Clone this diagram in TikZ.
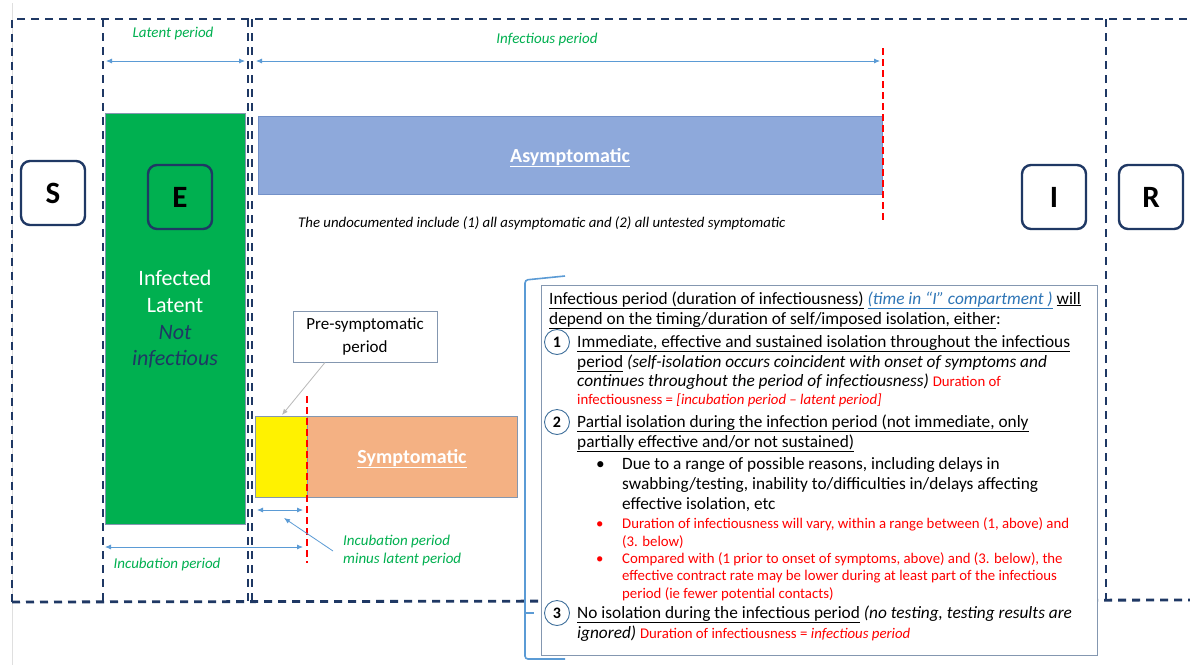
\documentclass[tikz,border=0pt]{standalone}
\usepackage{fontspec}
\setmainfont{Carlito}
\usetikzlibrary{arrows.meta,positioning}

\definecolor{navy}{HTML}{1F3864}
\definecolor{perioddgreen}{HTML}{00B050}
\definecolor{arrblue}{HTML}{5B9BD5}
\definecolor{asymblue}{HTML}{8EA9DB}
\definecolor{asymedge}{HTML}{7391C8}
\definecolor{symorange}{HTML}{F4B183}
\definecolor{boxedge}{HTML}{8497B0}
\definecolor{linkblue}{HTML}{2E75B6}
\definecolor{circblue}{HTML}{41719C}

\newcommand\bodysize{\fontsize{17.3}{20}\selectfont}
\newcommand\notesize{\fontsize{14.8}{17}\selectfont}

\tikzset{
  comp/.style={draw=navy, line width=2.4pt, rounded corners=9pt, minimum width=64pt,
    minimum height=64pt, font=\fontsize{31}{32}\selectfont\bfseries},
  border/.style={navy, line width=2.8pt, dash pattern=on 8pt off 6pt},
  onset/.style={red, line width=1.3pt, dash pattern=on 7pt off 4pt},
  span/.style={{Latex[length=6pt,width=5pt]}-{Latex[length=6pt,width=5pt]}, arrblue, line width=0.8pt},
  period/.style={text=perioddgreen, font=\fontsize{15}{18}\selectfont\itshape, inner sep=0pt, anchor=base},
  line/.style={anchor=base west, inner sep=0pt, font=\bodysize},
  note/.style={anchor=base west, inner sep=0pt, font=\notesize, text=red},
  num/.style={circle, draw=circblue, line width=0.9pt, minimum size=25pt, inner sep=0pt,
    fill=white, font=\bfseries\fontsize{16}{16}\selectfont},
  big/.style={anchor=base, inner sep=0pt, font=\fontsize{22}{26}\selectfont},
}

\begin{document}
\begin{tikzpicture}[x=1pt,y=-1pt]
  \useasboundingbox[fill=white] (0,0) rectangle (1190,665);
  % page edge
  \draw[gray!25, line width=0.6pt] (12,3) -- (12,665);

  % compartment borders
  \draw[border] (12,602) -- (12,19) -- (1190,19);
  \draw[border] (12,602) -- (1190,600);
  \draw[border] (103,19) -- (103,602);
  \draw[border, line width=1.8pt] (248.3,19) -- (248.3,602);
  \draw[border, line width=1.8pt] (252.2,19) -- (252.2,602);
  \draw[border] (1106,19) -- (1106,600);

  % period arrows
  \coordinate (latL) at (106,61);
  \coordinate (latR) at (245,61);
  \coordinate (infL) at (256,61);
  \coordinate (infR) at (880,61);
  \draw[span] (latL) -- (latR);
  \draw[span] (infL) -- (infR);
  \node[period] (latlbl) at (173,37) {Latent period};
  \node[period] (inflbl) at (547,43) {Infectious period};

  % latent block
  \draw[fill=perioddgreen, draw=boxedge, line width=0.5pt] (105,113) rectangle (245,524);
  \node[big, text=white] (inf1) at (175,285) {Infected};
  \node[big, text=white] (inf2) at (175,312) {Latent};
  \node[big, text=navy, font=\fontsize{22}{26}\selectfont\itshape] (inf3) at (175,339) {Not};
  \node[big, text=navy, font=\fontsize{22}{26}\selectfont\itshape] (inf4) at (175,365) {infectious};

  % compartments
  \node[comp] (S) at (53,193) {S};
  \node[comp] (E) at (180,197) {E};
  \node[comp] (I) at (1054,197) {I};
  \node[comp] (R) at (1151,197) {R};

  % asymptomatic
  \draw[fill=asymblue, draw=asymedge, line width=0.8pt] (258,116) rectangle (882,194);
  \node[big, text=white, font=\fontsize{20}{22}\selectfont\bfseries] (asym) at (570,162) {\underline{Asymptomatic}};
  \draw[onset] (883,48) -- (883,220);
  \node[anchor=base west, inner sep=0pt, font=\fontsize{14.8}{17}\selectfont\itshape] (undoc) at (298,227)
    {The undocumented include (1) all asymptomatic and (2) all untested symptomatic};

  % symptomatic
  \draw[fill=yellow, draw=boxedge, line width=0.8pt] (255,416) rectangle (307,497);
  \draw[fill=symorange, draw=boxedge, line width=0.8pt] (307,416) rectangle (517,497);
  \node[big, text=white, font=\fontsize{20}{22}\selectfont\bfseries] (sym) at (412,463) {\underline{Symptomatic}};
  \draw[onset] (307,396) -- (307,563);

  % pre-symptomatic callout
  \node[draw=boxedge, line width=0.9pt, minimum width=144pt, minimum height=51pt, align=center,
    font=\fontsize{17}{23}\selectfont] (pre) at (365,336.5) {Pre-symptomatic\\period};
  \coordinate (preTip) at (282,415);
  \draw[-{Latex[length=6pt,width=5pt]}, gray!55, line width=0.8pt] ([xshift=-40pt]pre.south) -- (preTip);

  % incubation arrows
  \coordinate (mlL) at (257,510);
  \coordinate (mlR) at (303,510);
  \draw[span] (mlL) -- (mlR);
  \coordinate (incL) at (105,547);
  \coordinate (incR) at (303,547);
  \draw[span] (incL) -- (incR);
  \node[period] (inclbl) at (167,568) {Incubation period};
  \node[period, anchor=base west] (ml1) at (343,545) {Incubation period};
  \node[period, anchor=base west] (ml2) at (343,563) {minus latent period};
  \coordinate (mlTip) at (284,518);
  \draw[-{Latex[length=6pt,width=5pt]}, arrblue, line width=0.8pt] (333,551) -- (mlTip);

  % bracket and text box
  \draw[arrblue, line width=1.6pt, rounded corners=3pt] (565,276) -- (525,280) -- (525,659) -- (565,659);
  \draw[arrblue, line width=1.6pt] (524,613) -- (534,613);
  \draw[fill=white, draw=boxedge, line width=0.9pt] (541,285) rectangle (1097,655);

  \node[line] (h1) at (549,304) {\underline{Infectious period (duration of infectiousness)}
    \textcolor{linkblue}{\underline{\itshape(time in “I” compartment )}} \underline{will}};
  \node[line] (h2) at (549,324) {\underline{depend on the timing/duration of self/imposed isolation, either}:};

  \node[num] (n1) at (557,342) {1};
  \node[line] (a1) at (577,347) {\underline{Immediate, effective and sustained isolation throughout the infectious}};
  \node[line] (a2) at (577,367) {\underline{period} \textit{(self-isolation occurs coincident with onset of symptoms and}};
  \node[line] (a3) at (577,386) {\textit{continues throughout the period of infectiousness)} {\notesize\color{red}Duration of}};
  \node[note] (a4) at (577,404) {infectiousness = \textit{[incubation period – latent period]}};

  \node[num] (n2) at (557,422) {2};
  \node[line] (b1) at (577,427) {\underline{Partial isolation during the infection period (not immediate, only}};
  \node[line] (b2) at (577,447) {\underline{partially effective and/or not sustained)}};
  \node[line] (d0) at (596,469) {•};
  \node[line] (d1) at (622,469) {Due to a range of possible reasons, including delays in};
  \node[line] (d2) at (622,489) {swabbing/testing, inability to/difficulties in/delays affecting};
  \node[line] (d3) at (622,509) {effective isolation, etc};
  \node[note] (v0) at (596,528) {•};
  \node[note] (v1) at (622,528) {Duration of infectiousness will vary, within a range between (1, above) and};
  \node[note] (v2) at (622,546) {(3. below)};
  \node[note] (c0) at (596,563) {•};
  \node[note] (c1) at (622,563) {Compared with (1 prior to onset of symptoms, above) and (3. below), the};
  \node[note] (c2) at (622,580) {effective contract rate may be lower during at least part of the infectious};
  \node[note] (c3) at (622,598) {period (ie fewer potential contacts)};

  \node[num] (n3) at (557,613) {3};
  \node[line] (e1) at (577,618) {\underline{No isolation during the infectious period} \textit{(no testing, testing results are}};
  \node[line] (e2) at (577,638) {\textit{ignored)} {\notesize\color{red}Duration of infectiousness = \textit{infectious period}}};
\end{tikzpicture}
\end{document}
